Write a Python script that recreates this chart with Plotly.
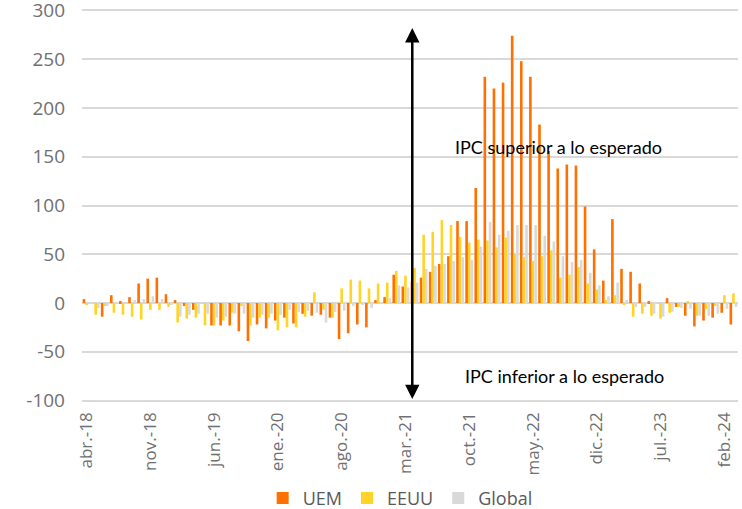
import plotly.graph_objects as go

MONTH_ABBR = ["ene.", "feb.", "mar.", "abr.", "may.", "jun.", "jul.", "ago.", "sept.", "oct.", "nov.", "dic."]
START_YEAR, START_MONTH, N_MONTHS = 2018, 4, 72

categories = []
for k in range(N_MONTHS):
    m = START_MONTH - 1 + k
    categories.append(f"{MONTH_ABBR[m % 12]}-{(START_YEAR + m // 12) % 100:02d}")

TICK_LABELS = ["abr.-18", "nov.-18", "jun.-19", "ene.-20", "ago.-20", "mar.-21",
               "oct.-21", "may.-22", "dic.-22", "jul.-23", "feb.-24"]
Y_TICKS = [-100, -50, 0, 50, 100, 150, 200, 250, 300]
Y_TICK_TEXT = ["-100", "-50", "0", "50", "100", "150", "200", "250", "300"]

UEM = [4, 0, -14, 8, 2, 6, 20, 25, 26, 9, 3, -3, -7, 0, -23, -23, -23, -29, -39, -22,
       -26, -18, -15, -21, -11, -13, -12, -15, -37, -31, -22, -25, 3, 6, 29, 17, 22, 26, 32, 40,
       48, 84, 84, 118, 232, 220, 226, 274, 248, 232, 183, 156, 138, 142, 141, 99, 55, 23, 86, 35,
       32, 20, 2, 0, 5, -4, -13, -24, -18, -15, -10, -22]
EEUU = [-2, -12, -3, -10, -12, -14, -17, -7, -7, -4, -20, -16, -15, -23, -23, -18, -10, -3, -23, -15,
        -15, -28, -25, -25, -14, 11, -7, -15, 15, 24, 23, 15, 20, 21, 33, 28, 36, 70, 73, 85,
        80, 68, 62, 65, 64, 57, 67, 50, 47, 43, 48, 54, 26, 29, 37, 20, 14, 3, 8, -2,
        -14, -11, -13, -16, -10, -4, 2, -13, -6, -3, 8, 10]
GLOBAL = [-1, -5, -3, -1, 1, 3, 4, 7, 4, -2, -14, -12, -11, -11, -15, -14, -11, -11, -15, -12,
          -11, -12, -7, -9, -8, -10, -20, -9, -8, -3, -2, -5, 0, 5, 18, 16, 21, 35, 38, 40,
          43, 47, 44, 58, 83, 70, 74, 80, 80, 80, 69, 63, 48, 42, 44, 31, 18, 7, 21, 3,
          -4, -4, -11, -14, -9, -5, -6, -13, -13, -11, -6, -4]

SERIES = [("UEM", UEM, "#FF7000"), ("EEUU", EEUU, "#FFD426"), ("Global", GLOBAL, "#D9D9D9")]

ARROW_X = 35.75
ARROW_TOP, ARROW_BOTTOM = 282, -100

fig = go.Figure()
for name, vals, col in SERIES:
    fig.add_trace(go.Bar(x=categories, y=vals, name=name, marker=dict(color=col, line=dict(width=0))))

X_TICK_FONT = dict(family="Open Sans, Liberation Sans, sans-serif", size=17, color="#707070")
Y_TICK_FONT = dict(family="Open Sans, Liberation Sans, sans-serif", size=19, color="#707070")
ANN_FONT = dict(family="Lato, Roboto, sans-serif", size=18, color="#000000")

fig.update_layout(
    width=742, height=509,
    margin=dict(l=82, r=4, t=9, b=107, autoexpand=False),
    plot_bgcolor="white", paper_bgcolor="white",
    barmode="group", bargap=0.14, bargroupgap=0,
    showlegend=True,
    legend=dict(orientation="h", x=0.485, xanchor="center", y=-0.245, yanchor="middle",
                font=dict(family="Open Sans, Liberation Sans, sans-serif", size=18, color="#595959"),
                itemwidth=30, traceorder="normal"),
    xaxis=dict(type="category", categoryorder="array", categoryarray=categories,
               tickmode="array", tickvals=TICK_LABELS, ticktext=TICK_LABELS,
               tickangle=-90, tickfont=X_TICK_FONT, showgrid=False, showline=False,
               ticks="", ticklabelstandoff=6, automargin=False, range=[-0.5, N_MONTHS - 0.5]),
    yaxis=dict(range=[-101.5, 301.5], tickmode="array", tickvals=Y_TICKS, ticktext=Y_TICK_TEXT,
               tickfont=Y_TICK_FONT, showgrid=True, gridcolor="#D9D9D9", gridwidth=1.5,
               zeroline=True, zerolinecolor="#D9D9D9", zerolinewidth=1.5,
               showline=False, ticks="", ticklabelstandoff=16, automargin=False,
               ticklabeloverflow="allow"),
)

fig.add_annotation(x=ARROW_X, y=ARROW_TOP, xref="x", yref="y",
                   ax=ARROW_X, ay=ARROW_BOTTOM, axref="x", ayref="y",
                   showarrow=True, arrowhead=2, arrowside="end+start",
                   arrowsize=1.15, arrowwidth=2.5, arrowcolor="#000000", text="")
fig.add_annotation(x=0.7264, y=159.5, xref="paper", yref="y", text="IPC superior a lo esperado",
                   showarrow=False, font=ANN_FONT, xanchor="center", yanchor="middle")
fig.add_annotation(x=0.735, y=-75, xref="paper", yref="y", text="IPC inferior a lo esperado",
                   showarrow=False, font=ANN_FONT, xanchor="center", yanchor="middle")

fig.write_html("out.html", config={"displayModeBar": False},
               post_script="document.body.style.margin='0';")
